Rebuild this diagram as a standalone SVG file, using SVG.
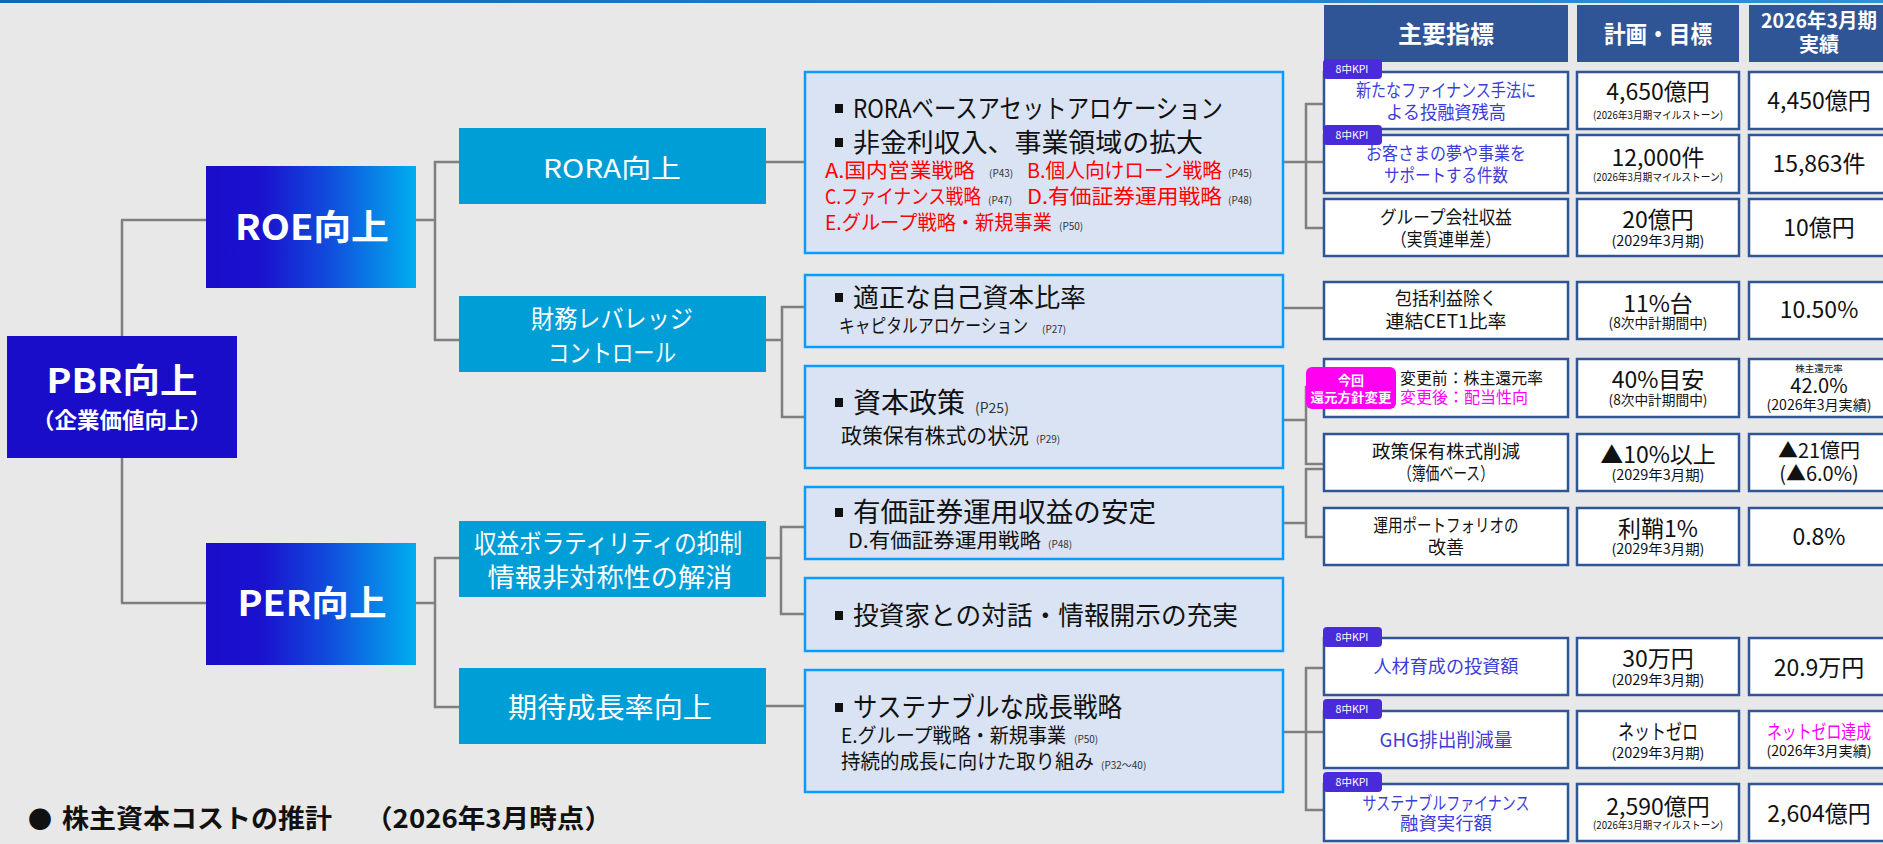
<svg xmlns="http://www.w3.org/2000/svg" width="1883" height="844" viewBox="0 0 1883 844">
<defs>
<linearGradient id="gL1" x1="0" x2="1" y1="0" y2="0">
<stop offset="0" stop-color="#1A0DCA"/>
<stop offset="0.27" stop-color="#1A12CF"/>
<stop offset="0.6" stop-color="#1050DD"/>
<stop offset="1" stop-color="#00AEEF"/>
</linearGradient>
<linearGradient id="gBar" x1="0" x2="1" y1="0" y2="0">
<stop offset="0" stop-color="#1565B0"/>
<stop offset="1" stop-color="#3090D8"/>
</linearGradient>
</defs>
<style>
text{font-family:"Noto Sans CJK JP","Noto Sans",sans-serif}
.conn line{stroke:#7F7F7F;stroke-width:2.5;fill:none}
.l1{fill:url(#gL1)}
.l2{fill:#009ED6}
.w{fill:#FFFFFF}
.b{font-weight:bold}
.cb{fill:#DAE3F3;stroke:#0A9BFF;stroke-width:2.5}
.tb{fill:#FFFFFF;stroke:#2F5597;stroke-width:2.5}
.hd{fill:#2F5597}
.kpi{fill:#4A2BDA}
.kt{fill:#FFFFFF;font-size:10.5px}
.bl{fill:#3C3CD8}
.red{fill:#FF0000}
.mg{fill:#FF00FF}
.k{fill:#111111}
.sm{fill:#333333;font-size:10px}
.m{text-anchor:middle}
</style>
<rect width="1883" height="844" fill="#E8E8E8"/>
<rect x="0" y="0" width="1883" height="3" fill="url(#gBar)"/>

<g id="connectors" class="conn">
<line x1="122" y1="220" x2="122" y2="336"/>
<line x1="122" y1="458" x2="122" y2="603"/>
<line x1="121" y1="220" x2="206" y2="220"/>
<line x1="121" y1="603" x2="206" y2="603"/>
<line x1="416" y1="220" x2="435" y2="220"/>
<line x1="435" y1="161" x2="435" y2="341"/>
<line x1="434" y1="162" x2="460" y2="162"/>
<line x1="434" y1="340" x2="459" y2="340"/>
<line x1="416" y1="603" x2="435" y2="603"/>
<line x1="435" y1="557" x2="435" y2="708"/>
<line x1="434" y1="558" x2="459" y2="558"/>
<line x1="434" y1="707" x2="459" y2="707"/>
<line x1="766" y1="162" x2="805" y2="162"/>
<line x1="766" y1="340" x2="782" y2="340"/>
<line x1="782" y1="306" x2="782" y2="418"/>
<line x1="781" y1="307" x2="805" y2="307"/>
<line x1="781" y1="417" x2="805" y2="417"/>
<line x1="766" y1="558" x2="781" y2="558"/>
<line x1="781" y1="526" x2="781" y2="615"/>
<line x1="780" y1="527" x2="805" y2="527"/>
<line x1="780" y1="614" x2="805" y2="614"/>
<line x1="766" y1="706" x2="805" y2="706"/>
<line x1="1283" y1="162" x2="1324" y2="162"/>
<line x1="1306" y1="103" x2="1306" y2="229"/>
<line x1="1305" y1="104" x2="1324" y2="104"/>
<line x1="1305" y1="228" x2="1324" y2="228"/>
<line x1="1283" y1="308" x2="1324" y2="308"/>
<line x1="1283" y1="420" x2="1306" y2="420"/>
<line x1="1306" y1="386" x2="1306" y2="465"/>
<line x1="1305" y1="387" x2="1324" y2="387"/>
<line x1="1305" y1="464" x2="1324" y2="464"/>
<line x1="1283" y1="523" x2="1306" y2="523"/>
<line x1="1306" y1="468" x2="1306" y2="538"/>
<line x1="1305" y1="469" x2="1324" y2="469"/>
<line x1="1305" y1="537" x2="1324" y2="537"/>
<line x1="1283" y1="732" x2="1324" y2="732"/>
<line x1="1306" y1="667" x2="1306" y2="811"/>
<line x1="1305" y1="668" x2="1324" y2="668"/>
<line x1="1305" y1="810" x2="1324" y2="810"/>
</g>

<g id="pbr">
<rect x="7" y="336" width="230" height="122" fill="#1A0DCA"/>
<text x="122" y="393" class="w b m" font-size="34" textLength="151" lengthAdjust="spacingAndGlyphs">PBR向上</text>
<text x="122" y="428" class="w b m" font-size="22" textLength="180" lengthAdjust="spacingAndGlyphs">（企業価値向上）</text>
</g>
<g id="roe">
<rect x="206" y="166" width="210" height="122" class="l1"/>
<text x="312" y="240" class="w b m" font-size="35" textLength="154" lengthAdjust="spacingAndGlyphs">ROE向上</text>
</g>
<g id="per">
<rect x="206" y="543" width="210" height="122" class="l1"/>
<text x="312" y="616" class="w b m" font-size="35" textLength="149" lengthAdjust="spacingAndGlyphs">PER向上</text>
</g>

<g id="rora">
<rect x="459" y="128" width="307" height="76" class="l2"/>
<text x="612" y="178" class="w m" font-size="26" textLength="138" lengthAdjust="spacingAndGlyphs">RORA向上</text>
</g>
<g id="leverage">
<rect x="459" y="296" width="307" height="76" class="l2"/>
<text x="612" y="328" class="w m" font-size="25" textLength="162" lengthAdjust="spacingAndGlyphs">財務レバレッジ</text>
<text x="612" y="362" class="w m" font-size="25" textLength="128" lengthAdjust="spacingAndGlyphs">コントロール</text>
</g>
<g id="volatility">
<rect x="459" y="521" width="307" height="76" class="l2"/>
<text x="608" y="553" class="w m" font-size="26" textLength="268" lengthAdjust="spacingAndGlyphs">収益ボラティリティの抑制</text>
<text x="610" y="587" class="w m" font-size="26" textLength="245" lengthAdjust="spacingAndGlyphs">情報非対称性の解消</text>
</g>
<g id="growth">
<rect x="459" y="668" width="307" height="76" class="l2"/>
<text x="610" y="718" class="w m" font-size="28" textLength="204" lengthAdjust="spacingAndGlyphs">期待成長率向上</text>
</g>

<g id="c-rora">
<rect x="805" y="72" width="478" height="181" class="cb"/>
<rect x="835" y="104" width="8" height="9" fill="#111"/>
<rect x="835" y="138" width="8" height="9" fill="#111"/>
<text x="853" y="118" class="k" font-size="26" textLength="370" lengthAdjust="spacingAndGlyphs">RORAベースアセットアロケーション</text>
<text x="853" y="152" class="k" font-size="26" textLength="350" lengthAdjust="spacingAndGlyphs">非金利収入、事業領域の拡大</text>
<text x="825" y="178" class="red" font-size="20" textLength="150" lengthAdjust="spacingAndGlyphs">A.国内営業戦略</text>
<text x="989" y="177" class="sm">(P43)</text>
<text x="1027" y="178" class="red" font-size="20" textLength="195" lengthAdjust="spacingAndGlyphs">B.個人向けローン戦略</text>
<text x="1228" y="177" class="sm">(P45)</text>
<text x="825" y="204" class="red" font-size="20" textLength="156" lengthAdjust="spacingAndGlyphs">C.ファイナンス戦略</text>
<text x="988" y="204" class="sm">(P47)</text>
<text x="1027" y="204" class="red" font-size="20" textLength="195" lengthAdjust="spacingAndGlyphs">D.有価証券運用戦略</text>
<text x="1228" y="204" class="sm">(P48)</text>
<text x="825" y="230" class="red" font-size="20" textLength="227" lengthAdjust="spacingAndGlyphs">E.グループ戦略・新規事業</text>
<text x="1059" y="230" class="sm">(P50)</text>
</g>
<g id="c-equity">
<rect x="805" y="275" width="478" height="72" class="cb"/>
<rect x="835" y="293" width="8" height="9" fill="#111"/>
<text x="853" y="307" class="k" font-size="26" textLength="233" lengthAdjust="spacingAndGlyphs">適正な自己資本比率</text>
<text x="839" y="333" class="k" font-size="19" textLength="189" lengthAdjust="spacingAndGlyphs">キャピタルアロケーション</text>
<text x="1042" y="333" class="sm">(P27)</text>
</g>
<g id="c-capital">
<rect x="805" y="366" width="478" height="102" class="cb"/>
<rect x="835" y="398" width="8" height="9" fill="#111"/>
<text x="853" y="413" class="k" font-size="28" textLength="112" lengthAdjust="spacingAndGlyphs">資本政策</text>
<text x="975" y="413" fill="#333" font-size="14">(P25)</text>
<text x="841" y="443" class="k" font-size="21" textLength="188" lengthAdjust="spacingAndGlyphs">政策保有株式の状況</text>
<text x="1036" y="443" class="sm">(P29)</text>
</g>
<g id="c-securities">
<rect x="805" y="487" width="478" height="72" class="cb"/>
<rect x="835" y="508" width="8" height="9" fill="#111"/>
<text x="853" y="522" class="k" font-size="27" textLength="303" lengthAdjust="spacingAndGlyphs">有価証券運用収益の安定</text>
<text x="848" y="548" class="k" font-size="20" textLength="193" lengthAdjust="spacingAndGlyphs">D.有価証券運用戦略</text>
<text x="1048" y="548" class="sm">(P48)</text>
</g>
<g id="c-dialogue">
<rect x="805" y="578" width="478" height="73" class="cb"/>
<rect x="835" y="611" width="8" height="9" fill="#111"/>
<text x="853" y="625" class="k" font-size="26" textLength="385" lengthAdjust="spacingAndGlyphs">投資家との対話・情報開示の充実</text>
</g>
<g id="c-sustainable">
<rect x="805" y="670" width="478" height="122" class="cb"/>
<rect x="835" y="703" width="8" height="9" fill="#111"/>
<text x="853" y="717" class="k" font-size="27" textLength="269" lengthAdjust="spacingAndGlyphs">サステナブルな成長戦略</text>
<text x="841" y="743" class="k" font-size="20" textLength="225" lengthAdjust="spacingAndGlyphs">E.グループ戦略・新規事業</text>
<text x="1074" y="743" class="sm">(P50)</text>
<text x="841" y="769" class="k" font-size="20" textLength="253" lengthAdjust="spacingAndGlyphs">持続的成長に向けた取り組み</text>
<text x="1101" y="769" class="sm">(P32～40)</text>
</g>

<g id="header">
<rect x="1324" y="5" width="244" height="57" class="hd"/>
<text x="1446" y="43" class="w b m" font-size="24">主要指標</text>
<rect x="1577" y="5" width="162" height="57" class="hd"/>
<text x="1658" y="43" class="w b m" font-size="24" textLength="108" lengthAdjust="spacingAndGlyphs">計画・目標</text>
<rect x="1749" y="5" width="141" height="57" class="hd"/>
<text x="1819" y="28" class="w b m" font-size="20" textLength="116" lengthAdjust="spacingAndGlyphs">2026年3月期</text>
<text x="1819" y="52" class="w b m" font-size="20">実績</text>
</g>

<g id="row1">
<rect x="1324" y="72" width="244" height="57" class="tb"/>
<rect x="1577" y="72" width="162" height="57" class="tb"/>
<rect x="1749" y="72" width="141" height="57" class="tb"/>
<rect x="1323" y="59" width="59" height="20" rx="4" class="kpi"/>
<text x="1352" y="73" class="kt m">8中KPI</text>
<text x="1446" y="97" class="bl m" font-size="18" textLength="180" lengthAdjust="spacingAndGlyphs">新たなファイナンス手法に</text>
<text x="1446" y="119" class="bl m" font-size="18" textLength="120" lengthAdjust="spacingAndGlyphs">よる投融資残高</text>
<text x="1658" y="100" class="k m" font-size="23">4,650億円</text>
<text x="1658" y="119" class="k m" font-size="10.5" textLength="130" lengthAdjust="spacingAndGlyphs">(2026年3月期マイルストーン)</text>
<text x="1819" y="109" class="k m" font-size="23">4,450億円</text>
</g>
<g id="row2">
<rect x="1324" y="135" width="244" height="58" class="tb"/>
<rect x="1577" y="135" width="162" height="58" class="tb"/>
<rect x="1749" y="135" width="141" height="58" class="tb"/>
<rect x="1323" y="125" width="59" height="20" rx="4" class="kpi"/>
<text x="1352" y="139" class="kt m">8中KPI</text>
<text x="1446" y="160" class="bl m" font-size="18" textLength="160" lengthAdjust="spacingAndGlyphs">お客さまの夢や事業を</text>
<text x="1446" y="182" class="bl m" font-size="18" textLength="124" lengthAdjust="spacingAndGlyphs">サポートする件数</text>
<text x="1658" y="166" class="k m" font-size="23">12,000件</text>
<text x="1658" y="181" class="k m" font-size="10.5" textLength="130" lengthAdjust="spacingAndGlyphs">(2026年3月期マイルストーン)</text>
<text x="1819" y="172" class="k m" font-size="23">15,863件</text>
</g>
<g id="row3">
<rect x="1324" y="199" width="244" height="57" class="tb"/>
<rect x="1577" y="199" width="162" height="57" class="tb"/>
<rect x="1749" y="199" width="141" height="57" class="tb"/>
<text x="1446" y="224" class="k m" font-size="18" textLength="132" lengthAdjust="spacingAndGlyphs">グループ会社収益</text>
<text x="1446" y="246" class="k m" font-size="18" textLength="110" lengthAdjust="spacingAndGlyphs">（実質連単差）</text>
<text x="1658" y="228" class="k m" font-size="23">20億円</text>
<text x="1658" y="246" class="k m" font-size="14" textLength="93" lengthAdjust="spacingAndGlyphs">(2029年3月期)</text>
<text x="1819" y="236" class="k m" font-size="23">10億円</text>
</g>
<g id="row4">
<rect x="1324" y="282" width="244" height="57" class="tb"/>
<rect x="1577" y="282" width="162" height="57" class="tb"/>
<rect x="1749" y="282" width="141" height="57" class="tb"/>
<text x="1446" y="305" class="k m" font-size="18" textLength="102" lengthAdjust="spacingAndGlyphs">包括利益除く</text>
<text x="1446" y="328" class="k m" font-size="18" textLength="121" lengthAdjust="spacingAndGlyphs">連結CET1比率</text>
<text x="1658" y="312" class="k m" font-size="23">11%台</text>
<text x="1658" y="328" class="k m" font-size="14" textLength="99" lengthAdjust="spacingAndGlyphs">(8次中計期間中)</text>
<text x="1819" y="318" class="k m" font-size="23">10.50%</text>
</g>
<g id="row5">
<rect x="1324" y="359" width="244" height="58" class="tb"/>
<rect x="1577" y="359" width="162" height="58" class="tb"/>
<rect x="1749" y="359" width="141" height="58" class="tb"/>
<rect x="1306" y="367" width="90" height="42" rx="6" fill="#FF00F0"/>
<text x="1351" y="385" class="w b m" font-size="13">今回</text>
<text x="1351" y="402" class="w b m" font-size="13" textLength="81" lengthAdjust="spacingAndGlyphs">還元方針変更</text>
<text x="1400" y="384" class="k" font-size="16" textLength="143" lengthAdjust="spacingAndGlyphs">変更前：株主還元率</text>
<text x="1400" y="403" class="mg" font-size="16" textLength="128" lengthAdjust="spacingAndGlyphs">変更後：配当性向</text>
<text x="1658" y="388" class="k m" font-size="23">40%目安</text>
<text x="1658" y="405" class="k m" font-size="14" textLength="99" lengthAdjust="spacingAndGlyphs">(8次中計期間中)</text>
<text x="1819" y="372" class="k m" font-size="9.5">株主還元率</text>
<text x="1819" y="393" class="k m" font-size="20">42.0%</text>
<text x="1819" y="410" class="k m" font-size="14" textLength="105" lengthAdjust="spacingAndGlyphs">(2026年3月実績)</text>
</g>
<g id="row6">
<rect x="1324" y="434" width="244" height="57" class="tb"/>
<rect x="1577" y="434" width="162" height="57" class="tb"/>
<rect x="1749" y="434" width="141" height="57" class="tb"/>
<text x="1446" y="458" class="k m" font-size="18" textLength="148" lengthAdjust="spacingAndGlyphs">政策保有株式削減</text>
<text x="1446" y="480" class="k m" font-size="18" textLength="96" lengthAdjust="spacingAndGlyphs">（簿価ベース）</text>
<text x="1658" y="463" class="k m" font-size="23">▲10%以上</text>
<text x="1658" y="480" class="k m" font-size="14" textLength="93" lengthAdjust="spacingAndGlyphs">(2029年3月期)</text>
<text x="1819" y="458" class="k m" font-size="20">▲21億円</text>
<text x="1819" y="481" class="k m" font-size="20">(▲6.0%)</text>
</g>
<g id="row7">
<rect x="1324" y="508" width="244" height="57" class="tb"/>
<rect x="1577" y="508" width="162" height="57" class="tb"/>
<rect x="1749" y="508" width="141" height="57" class="tb"/>
<text x="1446" y="532" class="k m" font-size="18" textLength="145" lengthAdjust="spacingAndGlyphs">運用ポートフォリオの</text>
<text x="1446" y="554" class="k m" font-size="18">改善</text>
<text x="1658" y="537" class="k m" font-size="23">利鞘1%</text>
<text x="1658" y="554" class="k m" font-size="14" textLength="93" lengthAdjust="spacingAndGlyphs">(2029年3月期)</text>
<text x="1819" y="545" class="k m" font-size="23">0.8%</text>
</g>
<g id="row8">
<rect x="1324" y="638" width="244" height="57" class="tb"/>
<rect x="1577" y="638" width="162" height="57" class="tb"/>
<rect x="1749" y="638" width="141" height="57" class="tb"/>
<rect x="1323" y="627" width="59" height="20" rx="4" class="kpi"/>
<text x="1352" y="641" class="kt m">8中KPI</text>
<text x="1446" y="673" class="bl m" font-size="18" textLength="145" lengthAdjust="spacingAndGlyphs">人材育成の投資額</text>
<text x="1658" y="667" class="k m" font-size="23">30万円</text>
<text x="1658" y="685" class="k m" font-size="14" textLength="93" lengthAdjust="spacingAndGlyphs">(2029年3月期)</text>
<text x="1819" y="676" class="k m" font-size="23">20.9万円</text>
</g>
<g id="row9">
<rect x="1324" y="711" width="244" height="57" class="tb"/>
<rect x="1577" y="711" width="162" height="57" class="tb"/>
<rect x="1749" y="711" width="141" height="57" class="tb"/>
<rect x="1323" y="699" width="59" height="20" rx="4" class="kpi"/>
<text x="1352" y="713" class="kt m">8中KPI</text>
<text x="1446" y="747" class="bl m" font-size="19" textLength="133" lengthAdjust="spacingAndGlyphs">GHG排出削減量</text>
<text x="1658" y="739" class="k m" font-size="21" textLength="80" lengthAdjust="spacingAndGlyphs">ネットゼロ</text>
<text x="1658" y="758" class="k m" font-size="14" textLength="93" lengthAdjust="spacingAndGlyphs">(2029年3月期)</text>
<text x="1819" y="739" class="mg m" font-size="19" textLength="104" lengthAdjust="spacingAndGlyphs">ネットゼロ達成</text>
<text x="1819" y="756" class="k m" font-size="14" textLength="105" lengthAdjust="spacingAndGlyphs">(2026年3月実績)</text>
</g>
<g id="row10">
<rect x="1324" y="784" width="244" height="57" class="tb"/>
<rect x="1577" y="784" width="162" height="57" class="tb"/>
<rect x="1749" y="784" width="141" height="57" class="tb"/>
<rect x="1323" y="772" width="59" height="20" rx="4" class="kpi"/>
<text x="1352" y="786" class="kt m">8中KPI</text>
<text x="1446" y="810" class="bl m" font-size="18" textLength="167" lengthAdjust="spacingAndGlyphs">サステナブルファイナンス</text>
<text x="1446" y="830" class="bl m" font-size="18" textLength="92" lengthAdjust="spacingAndGlyphs">融資実行額</text>
<text x="1658" y="815" class="k m" font-size="23">2,590億円</text>
<text x="1658" y="829" class="k m" font-size="10.5" textLength="130" lengthAdjust="spacingAndGlyphs">(2026年3月期マイルストーン)</text>
<text x="1819" y="822" class="k m" font-size="23">2,604億円</text>
</g>

<g id="footer">
<text x="28" y="828" class="k b" font-size="24">●</text>
<text x="62" y="828" class="k b" font-size="26" textLength="270" lengthAdjust="spacingAndGlyphs">株主資本コストの推計</text>
<text x="365" y="828" class="k b" font-size="26" textLength="247" lengthAdjust="spacingAndGlyphs">（2026年3月時点）</text>
</g>
</svg>
